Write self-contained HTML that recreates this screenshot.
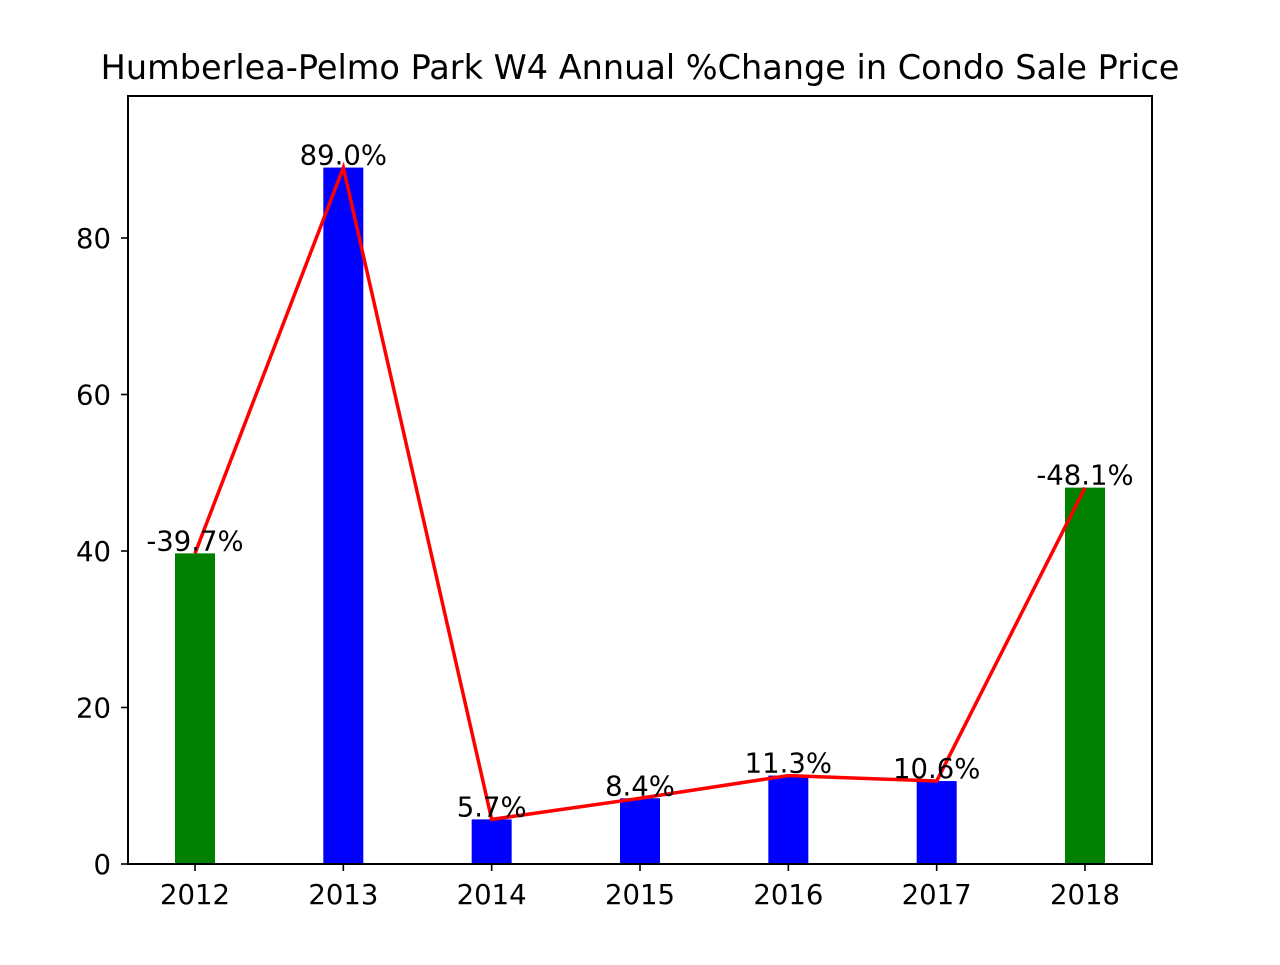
<!DOCTYPE html>
<html><head><meta charset="utf-8"><style>
body{margin:0;background:#fff}
svg text{font-family:"DejaVu Sans","Liberation Sans",sans-serif;fill:#000}
</style></head><body>
<svg id="chart" width="1280" height="960" xmlns="http://www.w3.org/2000/svg">
<rect width="1280" height="960" fill="#fff"/>
<text x="640" y="79" font-size="33.5" text-anchor="middle">Humberlea-Pelmo Park W4 Annual %Change in Condo Sale Price</text>
<g id="plot"></g>
<rect x="128" y="96" width="1024" height="768" fill="none" stroke="#000" stroke-width="2"/>
</svg>
<script>
const years = ['2012','2013','2014','2015','2016','2017','2018'];
const values = [39.7, 89.0, 5.7, 8.4, 11.3, 10.6, 48.1];
const labels = ['-39.7%','89.0%','5.7%','8.4%','11.3%','10.6%','-48.1%'];
const colors = ['green','blue','blue','blue','blue','blue','green'];
const yTicks = [0,20,40,60,80];
const NS='http://www.w3.org/2000/svg';
const g=document.getElementById('plot');
const x=i=>195+i*(1085-195)/6;
const y=v=>864-v*7.825;
function mk(t,a){const e=document.createElementNS(NS,t);for(const k in a)e.setAttribute(k,a[k]);g.appendChild(e);return e;}
values.forEach((v,i)=>{
  const r=mk('rect',{x:x(i)-20,y:y(v),width:40,height:864-y(v),fill:colors[i]});
  
  
});
const pl=mk('polyline',{points:values.map((v,i)=>x(i)+','+y(v)).join(' '),fill:'none',stroke:'red','stroke-width':3.5});


values.forEach((v,i)=>{
  const t=mk('text',{x:x(i),y:y(v)-3,'font-size':27.5,'text-anchor':'middle'});t.textContent=labels[i];
  
  
  const tk=mk('line',{x1:x(i),x2:x(i),y1:864,y2:871,stroke:'#000','stroke-width':1.6});
  
  
  const tl=mk('text',{x:x(i),y:904,'font-size':27.5,'text-anchor':'middle'});tl.textContent=years[i];
  
  
});
yTicks.forEach(v=>{
  const tk=mk('line',{x1:121,x2:128,y1:y(v),y2:y(v),stroke:'#000','stroke-width':1.6});
  
  
  const tl=mk('text',{x:111,y:y(v)+10,'font-size':27.5,'text-anchor':'end'});tl.textContent=v;
  
  
});
</script>
</body></html>
